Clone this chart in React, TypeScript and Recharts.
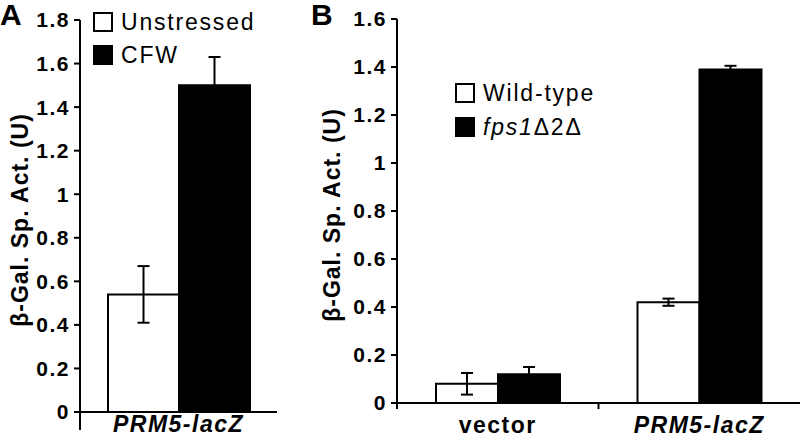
import React from "react";
import { BarChart, Bar, XAxis, YAxis, ErrorBar, Label } from "recharts";

// panel A
const catsA = ["PRM5-lacZ"];
const unstressed = [0.54];
const unstressedErr = [0.13];
const cfw = [1.5];
const cfwErr = [0.13];
const ticksA = [0, 0.2, 0.4, 0.6, 0.8, 1, 1.2, 1.4, 1.6, 1.8];

// panel B
const catsB = ["vector", "PRM5-lacZ"];
const wildType = [0.08, 0.42];
const wildTypeErr = [0.045, 0.015];
const fps = [0.12, 1.39];
const fpsErr = [0.03, 0.015];
const ticksB = [0, 0.2, 0.4, 0.6, 0.8, 1, 1.2, 1.4, 1.6];

const dataA = catsA.map((c, i) => ({
  cat: c, u: unstressed[i], uErr: unstressedErr[i], c: cfw[i], cErr: cfwErr[i],
}));
const dataB = catsB.map((c, i) => ({
  cat: c, wt: wildType[i], wtErr: wildTypeErr[i], m: fps[i], mErr: fpsErr[i],
}));

const FONT = "'Liberation Sans', Arial, sans-serif";
const yTick = { fontSize: 21, fontWeight: 700, fill: "#000", fontFamily: FONT, letterSpacing: 1.5 };

const A = { w: 280, h: 442, left: 80, right: 3, top: 20, bottom: 30 };
const B = { w: 520, h: 442, left: 117, right: 0, top: 19, bottom: 39 };

const makeXTick = (band: number, drop: number, labelDy: number) => (props: any) => {
  const { x, y, payload } = props;
  const italic = payload.value !== "vector";
  return (
    <g>
      <line x1={x - band / 2} x2={x - band / 2} y1={y} y2={y + drop} stroke="#000" strokeWidth={2} />
      <text
        x={x}
        y={y + labelDy}
        textAnchor="middle"
        fontSize={23}
        fontWeight={700}
        fontStyle={italic ? "italic" : "normal"}
        letterSpacing={1.5}
        fontFamily={FONT}
        fill="#000"
      >
        {payload.value}
      </text>
    </g>
  );
};

const yTitle = (dx: number) => (props: any) => {
  const vb = props.viewBox;
  const cx = vb.x + dx;
  const cy = vb.y + vb.height / 2 + 4;
  return (
    <text
      x={cx}
      y={cy}
      transform={`rotate(-90, ${cx}, ${cy})`}
      textAnchor="middle"
      dominantBaseline="central"
      fontSize={23}
      fontWeight={700}
      letterSpacing={1}
      fontFamily={FONT}
      fill="#000"
    >
      β-Gal. Sp. Act. (U)
    </text>
  );
};

function LegendBox({ items, left, top, gap }: { items: { label: React.ReactNode; fill: string }[]; left: number; top: number; gap: number }) {
  return (
    <div style={{ position: "absolute", left, top, display: "flex", flexDirection: "column", gap, fontFamily: FONT }}>
      {items.map((it, i) => (
        <div key={i} style={{ display: "flex", alignItems: "center", gap: 8 }}>
          <span
            style={{
              width: 16, height: 16, background: it.fill, border: "2px solid #000",
              display: "inline-block", flexShrink: 0,
            }}
          />
          <span style={{ fontSize: 23, color: "#000", letterSpacing: 1.8, lineHeight: "24px", whiteSpace: "nowrap" }}>{it.label}</span>
        </div>
      ))}
    </div>
  );
}

export default function App() {
  const bandA = (A.w - A.left - A.right) / catsA.length;
  const bandB = (B.w - B.left - B.right) / catsB.length;
  return (
    <div style={{ position: "absolute", left: 0, top: 0, width: 800, height: 442, background: "#fff", fontFamily: FONT }}>
      <div style={{ position: "absolute", left: 0, top: 0 }}>
        <BarChart
          width={A.w}
          height={A.h}
          data={dataA}
          margin={{ top: A.top, right: A.right, bottom: 0, left: 0 }}
          barGap={0}
          barSize={71}
        >
          <XAxis
            dataKey="cat"
            axisLine={{ stroke: "#000", strokeWidth: 2 }}
            tickLine={false}
            tickSize={0}
            tickMargin={0}
            height={A.bottom}
            interval={0}
            tick={makeXTick(bandA, 18, 20)}
          />
          <YAxis
            width={A.left}
            domain={[0, 1.8]}
            ticks={ticksA}
            interval={0}
            axisLine={{ stroke: "#000", strokeWidth: 2 }}
            tickLine={{ stroke: "#000", strokeWidth: 2 }}
            tickSize={6}
            tickMargin={4}
            tick={yTick}
          >
            <Label content={yTitle(20)} />
          </YAxis>
          <Bar dataKey="u" fill="#fff" stroke="#000" strokeWidth={2} isAnimationActive={false}>
            <ErrorBar dataKey="uErr" width={6} stroke="#000" strokeWidth={2} isAnimationActive={false} />
          </Bar>
          <Bar dataKey="c" fill="#000" stroke="#000" strokeWidth={2} isAnimationActive={false}>
            <ErrorBar dataKey="cErr" width={6} stroke="#000" strokeWidth={2} isAnimationActive={false} />
          </Bar>
        </BarChart>
      </div>

      <div style={{ position: "absolute", left: 280, top: 0 }}>
        <BarChart
          width={B.w}
          height={B.h}
          data={dataB}
          margin={{ top: B.top, right: B.right, bottom: 0, left: 0 }}
          barGap={0}
          barSize={62}
        >
          <XAxis
            dataKey="cat"
            axisLine={{ stroke: "#000", strokeWidth: 2 }}
            tickLine={false}
            tickSize={0}
            tickMargin={0}
            height={B.bottom}
            interval={0}
            tick={makeXTick(bandB, 6, 30)}
          />
          <YAxis
            width={B.left}
            domain={[0, 1.6]}
            ticks={ticksB}
            interval={0}
            axisLine={{ stroke: "#000", strokeWidth: 2 }}
            tickLine={{ stroke: "#000", strokeWidth: 2 }}
            tickSize={6}
            tickMargin={4}
            tick={yTick}
          >
            <Label content={yTitle(52)} />
          </YAxis>
          <Bar dataKey="wt" fill="#fff" stroke="#000" strokeWidth={2} isAnimationActive={false}>
            <ErrorBar dataKey="wtErr" width={6} stroke="#000" strokeWidth={2} isAnimationActive={false} />
          </Bar>
          <Bar dataKey="m" fill="#000" stroke="#000" strokeWidth={2} isAnimationActive={false}>
            <ErrorBar dataKey="mErr" width={6} stroke="#000" strokeWidth={2} isAnimationActive={false} />
          </Bar>
        </BarChart>
      </div>

      <LegendBox
        left={93}
        top={10}
        gap={9}
        items={[
          { label: "Unstressed", fill: "#fff" },
          { label: "CFW", fill: "#000" },
        ]}
      />
      <LegendBox
        left={455}
        top={81}
        gap={10}
        items={[
          { label: "Wild-type", fill: "#fff" },
          { label: <span><i>fps1</i>Δ2Δ</span>, fill: "#000" },
        ]}
      />

      <div style={{ position: "absolute", left: 0, top: 0, fontSize: 30, fontWeight: 700, lineHeight: "30px", letterSpacing: 2 }}>A</div>
      <div style={{ position: "absolute", left: 311, top: 0, fontSize: 30, fontWeight: 700, lineHeight: "30px", letterSpacing: 2 }}>B</div>
    </div>
  );
}
